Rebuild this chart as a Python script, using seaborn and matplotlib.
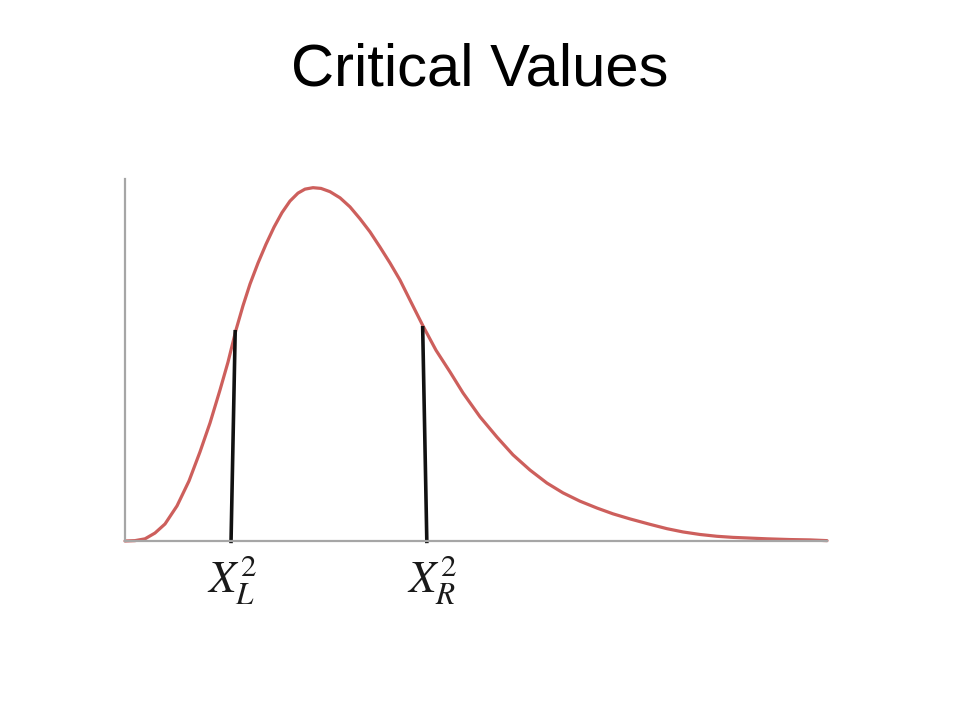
import numpy as np
import pandas as pd
import matplotlib
matplotlib.use("Agg")
import matplotlib.pyplot as plt
import seaborn as sns

# ----------------------------
# Curve points
# ----------------------------
curve_x = [0.000, 0.142, 0.285, 0.427, 0.570, 0.741, 0.912, 1.068, 1.211, 1.353,
           1.467, 1.581, 1.681, 1.781, 1.895, 2.009, 2.123, 2.236, 2.350, 2.464,
           2.564, 2.678, 2.792, 2.920, 3.063, 3.205, 3.348, 3.490, 3.632, 3.775,
           3.917, 4.074, 4.245, 4.430, 4.630, 4.815, 5.057, 5.299, 5.527, 5.769,
           6.011, 6.239, 6.481, 6.724, 6.952, 7.194, 7.479, 7.721, 7.949, 8.191,
           8.433, 8.661, 8.903, 9.145, 9.473, 9.758, 10.000]
curve_y = [0.000, 0.001, 0.006, 0.022, 0.047, 0.097, 0.166, 0.246, 0.326, 0.417,
           0.494, 0.583, 0.650, 0.710, 0.768, 0.820, 0.867, 0.907, 0.939, 0.961,
           0.972, 0.976, 0.974, 0.965, 0.948, 0.923, 0.890, 0.854, 0.812, 0.768,
           0.721, 0.660, 0.594, 0.527, 0.467, 0.409, 0.343, 0.287, 0.238, 0.196,
           0.160, 0.133, 0.110, 0.091, 0.075, 0.061, 0.046, 0.034, 0.025, 0.018,
           0.013, 0.010, 0.008, 0.006, 0.004, 0.003, 0.001]

# critical value markers
crit_labels = [r"$X_L^2$", r"$X_R^2$"]
crit_top_x = [1.57, 4.24]
crit_top_y = [0.583, 0.594]
crit_bottom_x = [1.51, 4.30]
label_x = [1.53, 4.38]

df = pd.DataFrame({"x": curve_x, "y": curve_y})

sns.set_style("white")
plt.rcParams["font.family"] = ["Liberation Sans", "DejaVu Sans"]
plt.rcParams["mathtext.fontset"] = "stix"

fig = plt.figure(figsize=(9.6, 7.2), dpi=100)
ax = fig.add_axes([125 / 960, (720 - 541) / 720, 702 / 960, 362 / 720])

sns.lineplot(data=df, x="x", y="y", ax=ax, color="#cd5f5c", linewidth=2.3,
             clip_on=False, solid_joinstyle="round", solid_capstyle="round")

for tx, ty, bx, lx, lab in zip(crit_top_x, crit_top_y, crit_bottom_x,
                               label_x, crit_labels):
    ax.plot([tx, bx], [ty, -0.006], color="#111111", linewidth=2.6,
            solid_capstyle="butt", clip_on=False)
    ax.text(lx, -0.105, lab, ha="center", va="center", fontsize=32,
            color="#1a1a1a")

ax.set_xlim(0, 10)
ax.set_ylim(0, 1)
ax.set_xticks([])
ax.set_yticks([])
ax.set_xlabel("")
ax.set_ylabel("")
for side in ["top", "right"]:
    ax.spines[side].set_visible(False)
for side in ["left", "bottom"]:
    ax.spines[side].set_color("#a6a6a6")
    ax.spines[side].set_linewidth(1.6)

fig.text(0.5, 1 - 85 / 720, "Critical Values", ha="center", va="baseline",
         fontsize=43, color="black")

fig.savefig("out.png", dpi=100)
